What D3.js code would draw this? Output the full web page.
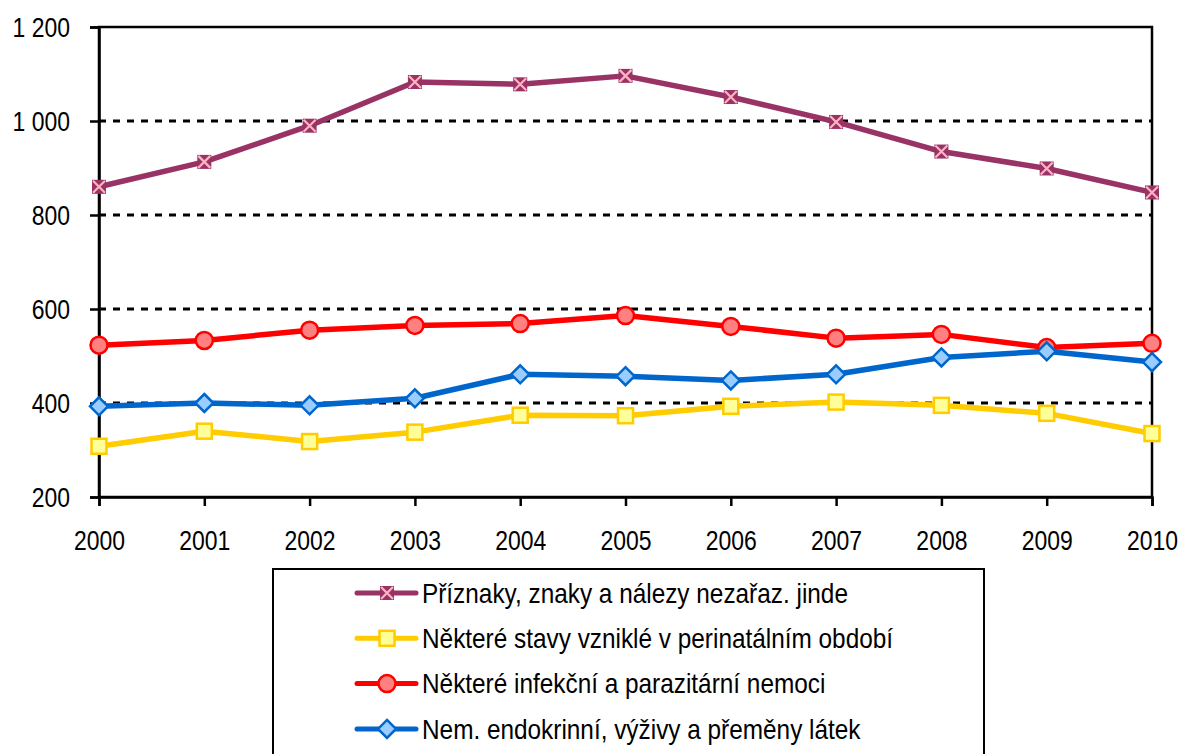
<!DOCTYPE html>
<html><head><meta charset="utf-8">
<script src="https://cdn.jsdelivr.net/npm/d3@7"></script>
<style>body{margin:0;background:#fff}svg{display:block}text{font-family:"Liberation Sans",Arial,sans-serif;fill:#000}</style>
</head><body><svg id="c" width="1181" height="754"></svg>
<script>
const years = [2000,2001,2002,2003,2004,2005,2006,2007,2008,2009,2010];
const yTicks = [200,400,600,800,1000,1200];
const seriesNames = ["Příznaky, znaky a nálezy nezařaz. jinde","Některé stavy vzniklé v perinatálním období","Některé infekční a parazitární nemoci","Nem. endokrinní, výživy a přeměny látek"];
const priznaky = [860,913,990,1083,1078,1096,1051,998,935,899,848];
const perinatal = [308,340,318,338,374,373,393,402,395,378,335];
const infekcni = [523,533,555,565,569,586,563,538,546,518,527];
const endokrinni = [393,400,395,410,461,457,448,461,497,510,487];

const svg = d3.select("#c");
const L=99,R=1152,T=27,B=497;
const x = d3.scaleLinear().domain([2000,2010]).range([L,R]);
const y = d3.scaleLinear().domain([200,1200]).range([B,T]);
const SX = 0.82;

// gridlines
svg.append("g").selectAll("line").data([400,600,800,1000]).join("line")
  .attr("x1",L).attr("x2",R).attr("y1",d=>y(d)).attr("y2",d=>y(d))
  .attr("stroke","#000").attr("stroke-width",3).attr("stroke-dasharray","7,7");

// frame
svg.append("rect").attr("x",L).attr("y",T).attr("width",R-L).attr("height",B-T)
  .attr("fill","none").attr("stroke","#000").attr("stroke-width",2.5);

// y axis
const ya = svg.append("g").attr("transform",`translate(${L},0)`)
  .call(d3.axisLeft(y).tickValues(yTicks).tickSize(9).tickPadding(20)
    .tickFormat(d=>d3.format(",")(d).replace(/,/g," ")));
ya.select(".domain").attr("stroke","#000").attr("stroke-width",2.5);
ya.selectAll(".tick line").attr("stroke","#000").attr("stroke-width",2.5);
ya.selectAll("text").attr("font-size",28).attr("x",0).attr("dy","0.35em")
  .attr("transform",`translate(-29,0) scale(${SX},1)`)
  .style("font-family","'Liberation Sans',Arial,sans-serif");

// x axis
const xa = svg.append("g").attr("transform",`translate(0,${B})`)
  .call(d3.axisBottom(x).tickValues(years).tickSize(9).tickPadding(20).tickFormat(d3.format("d")));
xa.select(".domain").attr("stroke","#000").attr("stroke-width",2.5);
xa.selectAll(".tick line").attr("stroke","#000").attr("stroke-width",2.5);
xa.selectAll("text").attr("font-size",28).attr("y",0).attr("dy","0.35em")
  .attr("transform",`translate(0,43) scale(${SX},1)`)
  .style("font-family","'Liberation Sans',Arial,sans-serif");

const styles = [
  {data:priznaky, line:"#993366", marker:"xsquare", fill:"#993366", stroke:"#FFB3C1"},
  {data:perinatal, line:"#FFCC00", marker:"square", fill:"#FFFF99", stroke:"#FFCC00"},
  {data:infekcni, line:"#FF0000", marker:"circle", fill:"#FF8080", stroke:"#FF0000"},
  {data:endokrinni, line:"#0066CC", marker:"diamond", fill:"#99CCFF", stroke:"#0066CC"}
];

function drawMarker(g, type, cx, cy, s){
  if(type==="xsquare"){
    g.append("rect").attr("x",cx-7).attr("y",cy-7).attr("width",14).attr("height",14).attr("fill",s.fill);
    g.append("path").attr("d",`M${cx-6},${cy-6}L${cx+6},${cy+6}M${cx-6},${cy+6}L${cx+6},${cy-6}`)
      .attr("stroke",s.stroke).attr("stroke-width",2.2);
  } else if(type==="square"){
    g.append("rect").attr("x",cx-7.5).attr("y",cy-7.5).attr("width",15).attr("height",15)
      .attr("fill",s.fill).attr("stroke",s.stroke).attr("stroke-width",2.5);
  } else if(type==="circle"){
    g.append("circle").attr("cx",cx).attr("cy",cy).attr("r",8.5)
      .attr("fill",s.fill).attr("stroke",s.stroke).attr("stroke-width",2.5);
  } else {
    g.append("path").attr("d",`M${cx},${cy-9}L${cx+9},${cy}L${cx},${cy+9}L${cx-9},${cy}Z`)
      .attr("fill",s.fill).attr("stroke",s.stroke).attr("stroke-width",2.5);
  }
}

const line = d3.line().x((d,i)=>x(years[i])).y(d=>y(d));
styles.forEach(s=>{
  const g = svg.append("g");
  g.append("path").datum(s.data).attr("d",line).attr("fill","none")
    .attr("stroke",s.line).attr("stroke-width",5.5).attr("stroke-linejoin","round");
  s.data.forEach((v,i)=>drawMarker(g,s.marker,x(years[i]),y(v),s));
});

// legend
const lg = svg.append("g");
lg.append("rect").attr("x",273).attr("y",569).attr("width",711).attr("height",200)
  .attr("fill","#fff").attr("stroke","#000").attr("stroke-width",2);
styles.forEach((s,i)=>{
  const cy = 593 + i*45.3;
  const g = lg.append("g");
  g.append("line").attr("x1",357).attr("x2",416).attr("y1",cy).attr("y2",cy)
    .attr("stroke",s.line).attr("stroke-width",5).attr("stroke-linecap","round");
  drawMarker(g,s.marker,387,cy,s);
  g.append("text").attr("x",0).attr("y",0).attr("dy","0.35em").attr("font-size",28)
    .attr("transform",`translate(422,${cy}) scale(0.87,1)`).text(seriesNames[i]);
});
</script></body></html>
